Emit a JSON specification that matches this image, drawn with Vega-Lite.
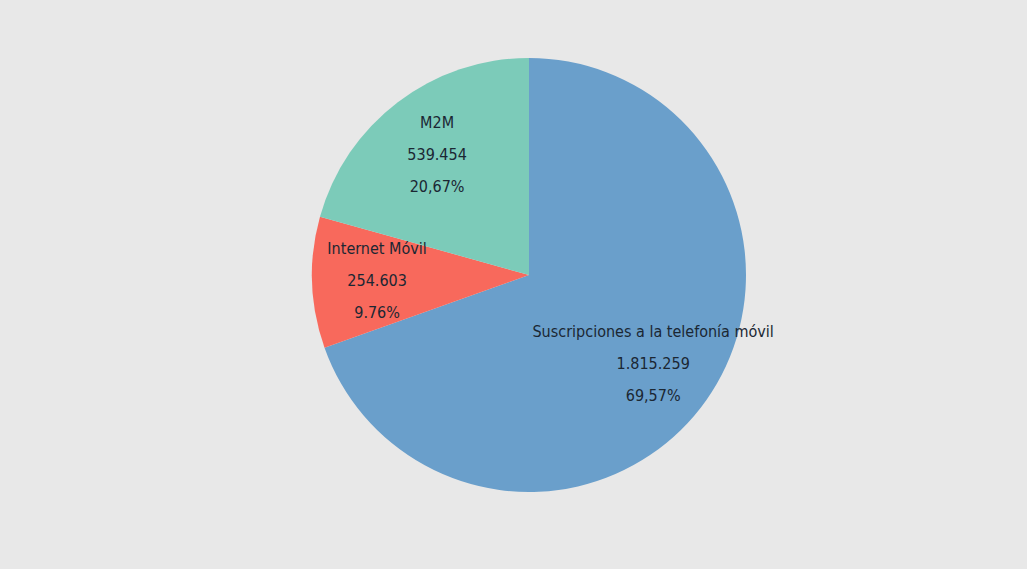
{
  "$schema": "https://vega.github.io/schema/vega-lite/v6.json",
  "autosize": {"type": "fit", "contains": "padding"},
  "width": 1027,
  "height": 569,
  "padding": {"left": 31, "right": 0, "top": 0, "bottom": 19},
  "background": "#e8e8e8",
  "config": {"view": {"stroke": null}},
  "data": {
    "values": [
      {"cat": "Suscripciones a la telefonía móvil", "value": 1815259, "order": 1, "label": ["Suscripciones a la telefonía móvil", "1.815.259", "69,57%"]},
      {"cat": "Internet Móvil", "value": 254603, "order": 2, "label": ["Internet Móvil", "254.603", "9.76%"]},
      {"cat": "M2M", "value": 539454, "order": 3, "label": ["M2M", "539.454", "20,67%"]}
    ]
  },
  "encoding": {
    "theta": {"field": "value", "type": "quantitative", "stack": true},
    "order": {"field": "order", "type": "quantitative"}
  },
  "layer": [
    {
      "mark": {"type": "arc", "radius": 217},
      "encoding": {
        "color": {
          "field": "cat",
          "type": "nominal",
          "scale": {
            "domain": ["Suscripciones a la telefonía móvil", "Internet Móvil", "M2M"],
            "range": ["#6a9fcb", "#f8695c", "#7ccbb9"]
          },
          "legend": null
        }
      }
    },
    {
      "mark": {
        "type": "text",
        "radius": 152,
        "dy": -31,
        "font": "DejaVu Sans Condensed, sans-serif",
        "fontSize": 16,
        "lineHeight": 32,
        "align": "center",
        "baseline": "middle",
        "color": "#1b2733"
      },
      "encoding": {
        "text": {"field": "label"}
      }
    }
  ]
}
